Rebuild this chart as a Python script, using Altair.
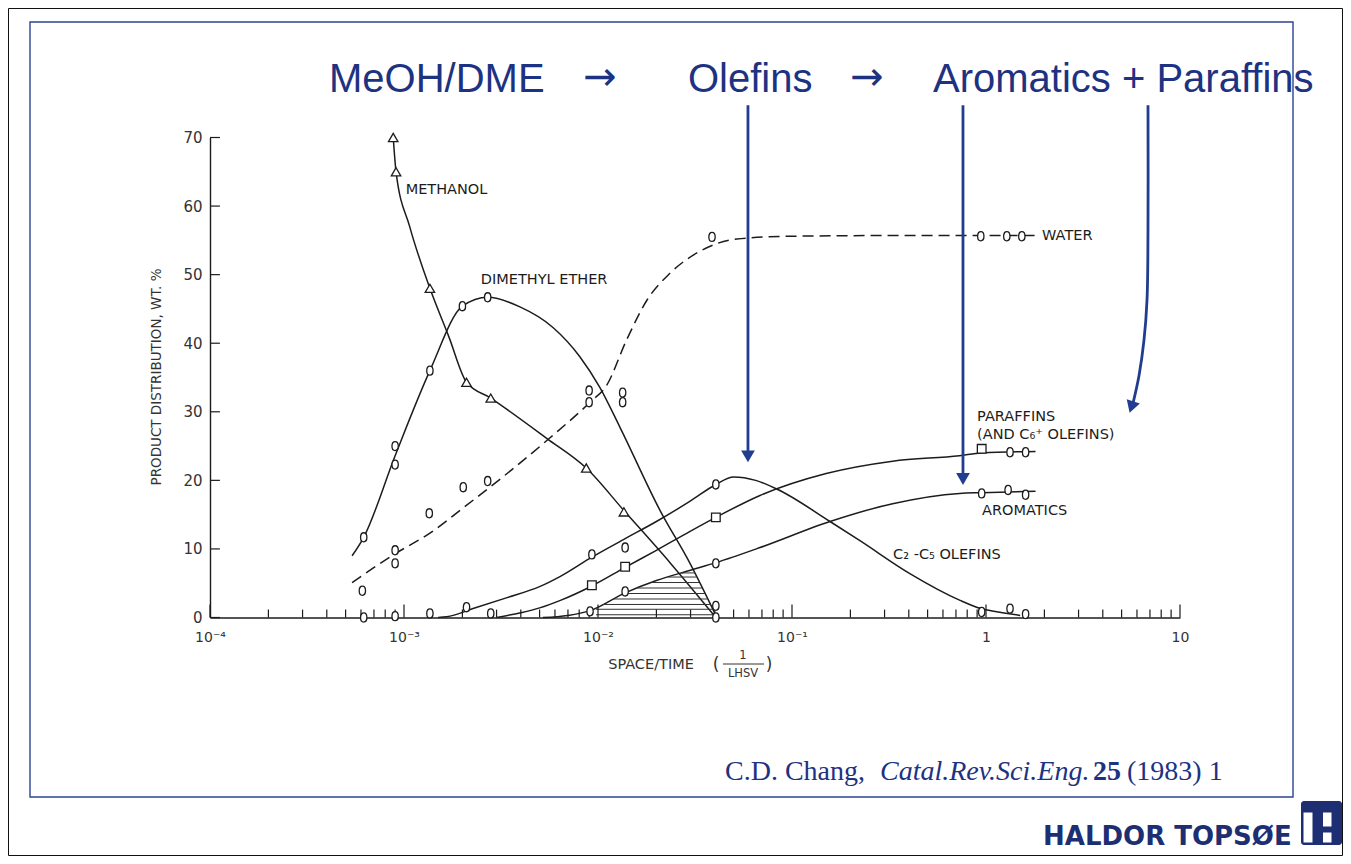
import altair as alt
import numpy as np
import pandas as pd

# ---------------- values ----------------
# fitted curves (space/time, wt.%)
meth_cx = [8.8e-4, 9.1e-4, 1.07e-3, 1.36e-3, 1.7e-3, 2.1e-3, 2.8e-3, 5.46e-3, 8.7e-3, 1.36e-2, 2.35e-2, 4.05e-2]
meth_cy = [70, 65, 57, 48, 41, 34.3, 32, 26.1, 21.8, 15.6, 8.0, 0]

dme_cx = [5.4e-4, 6.2e-4, 9e-4, 1.36e-3, 2.0e-3, 2.7e-3, 3.96e-3, 5.86e-3, 8.08e-3, 1.02e-2, 1.3e-2, 2.09e-2, 2.98e-2, 4.1e-2]
dme_cy = [9, 11.7, 23.6, 36, 45.4, 46.7, 45.3, 42.3, 38, 33.6, 27.7, 15.6, 7.9, 0]

water_cx = [5.4e-4, 9e-4, 1.36e-3, 2e-3, 3.4e-3, 5.6e-3, 9.1e-3, 1.11e-2, 1.4e-2, 1.79e-2, 2.35e-2, 3.45e-2, 5.2e-2, 0.1, 0.3, 0.94, 1.8]
water_cy = [5.1, 9.3, 12.3, 15.9, 21, 26.1, 31.4, 33.9, 40.4, 46.3, 50.2, 53.6, 55.2, 55.6, 55.7, 55.7, 55.7]

olef_cx = [1.5e-3, 1.66e-3, 2.27e-3, 3.4e-3, 5e-3, 6.4e-3, 9.3e-3, 1.38e-2, 2e-2, 3e-2, 4.05e-2, 5e-2, 6.5e-2, 8.4e-2, 0.157, 0.224, 0.405, 0.735, 0.94, 1.29, 1.5]
olef_cy = [0, 0.1, 1.3, 2.9, 4.5, 6.0, 8.8, 11.5, 14, 17, 19.4, 20.5, 20.0, 18.7, 14.0, 11.2, 6.4, 2.5, 1.3, 0.6, 0.3]

par_cx = [3e-3, 4e-3, 5e-3, 6.4e-3, 9.3e-3, 1.38e-2, 2e-2, 3e-2, 4.05e-2, 6.84e-2, 0.15, 0.33, 0.73, 0.95, 1.8]
par_cy = [0, 0.7, 1.4, 2.5, 4.6, 7.3, 9.8, 12.6, 14.6, 17.8, 21.0, 22.8, 23.6, 24.0, 24.2]

aro_cx = [5.2e-3, 7e-3, 9.1e-3, 1.38e-2, 2e-2, 3e-2, 4.05e-2, 6.84e-2, 0.157, 0.33, 0.73, 0.95, 1.8]
aro_cy = [0, 0.3, 1.0, 3.6, 5.4, 6.9, 8.0, 10.2, 14.0, 16.6, 18.1, 18.2, 18.4]

# measured points
meth_px = [8.8e-4, 9.1e-4, 1.36e-3, 2.1e-3, 2.8e-3, 8.7e-3, 1.36e-2]
meth_py = [70, 65, 48, 34.3, 32, 21.8, 15.4]

dme_px = [6.2e-4, 9e-4, 9e-4, 1.36e-3, 2.0e-3, 2.7e-3, 9e-3, 9e-3, 1.34e-2, 1.34e-2, 4.05e-2, 4.05e-2]
dme_py = [11.7, 22.3, 25, 36, 45.4, 46.7, 33.1, 31.4, 32.8, 31.4, 1.7, 0]

water_px = [6.1e-4, 9e-4, 9e-4, 1.35e-3, 2.02e-3, 2.7e-3, 3.87e-2, 0.94, 1.28, 1.53]
water_py = [3.9, 9.8, 7.9, 15.2, 19.0, 19.9, 55.5, 55.6, 55.6, 55.6]

olef_px = [6.2e-4, 9e-4, 1.36e-3, 2.1e-3, 9.3e-3, 1.38e-2, 4.05e-2, 0.95, 1.33, 1.6]
olef_py = [0, 0.2, 0.6, 1.5, 9.2, 10.2, 19.4, 0.8, 1.3, 0.5]

par_sq_x = [9.3e-3, 1.38e-2, 4.05e-2, 0.95]
par_sq_y = [4.7, 7.4, 14.6, 24.6]
par_ci_x = [2.8e-3, 1.33, 1.6]
par_ci_y = [0.6, 24.1, 24.1]

aro_px = [9.1e-3, 1.38e-2, 4.05e-2, 0.95, 1.3, 1.6]
aro_py = [0.9, 3.8, 7.9, 18.1, 18.6, 17.9]

# curve labels
label_text = ["METHANOL", "DIMETHYL ETHER", "WATER", "PARAFFINS", "(AND C\u2086\u207a OLEFINS)", "AROMATICS", "C\u2082 -C\u2085 OLEFINS"]
label_x = [1.02e-3, 2.49e-3, 1.945, 0.9, 0.9, 0.954, 0.332]
label_y = [62.3, 49.2, 55.6, 29.2, 26.6, 15.6, 9.05]

# hatched-area levels (wt.%)
hatch_levels = [0.4, 1.2, 1.9, 2.7, 3.5, 4.3, 5.1, 5.9, 6.5]

# blue annotation arrows
arrow_olef_x = [0.0593, 0.0593]
arrow_olef_y = [74.7, 23.8]
arrow_arom_x = [0.761, 0.761]
arrow_arom_y = [74.7, 20.4]
arrow_par_x = [6.84, 6.84, 6.76, 6.52, 6.15, 5.72]
arrow_par_y = [74.7, 56.5, 46.3, 40.4, 35.3, 31.2]
head_x = [0.0593, 0.761, 5.62]
head_y = [23.5, 20.2, 30.7]
head_angle = [0, 0, 18]

# axis ticks
x_major = [1e-4, 1e-3, 1e-2, 1e-1, 1, 10]
x_labels = ["10\u207b\u2074", "10\u207b\u00b3", "10\u207b\u00b2", "10\u207b\u00b9", "1", "10"]
y_major = [0, 10, 20, 30, 40, 50, 60, 70]

# ---------------- styles ----------------
INK = "#1c1c1c"
BLUE = "#213d8f"
NAVY = "#1e3282"
LOGO = "#1d2f72"
FRAME = "#2b4494"
ELLIPSE = "M0,-1C0.93,-1 0.93,1 0,1C-0.93,1 -0.93,-1 0,-1Z"

xscale = alt.Scale(type="log", domain=[1e-4, 10], nice=False)
yscale = alt.Scale(domain=[0, 70], nice=False, zero=False)

expr = " : ".join(
    [f"datum.value < {v * 1.1} ? '{l}'" for v, l in zip(x_major[:-1], x_labels[:-1])]
) + f" : '{x_labels[-1]}'"

xaxis = alt.Axis(values=x_major, labelExpr=expr, ticks=False, grid=False,
                 domainColor=INK, domainWidth=1.4, labelFont="DejaVu Sans",
                 labelFontSize=14, labelColor="#333", labelPadding=13,
                 labelFlush=False, title="")
yaxis = alt.Axis(values=y_major, ticks=False, grid=False, domainColor=INK,
                 domainWidth=1.4, labelFont="DejaVu Sans", labelFontSize=15,
                 labelColor="#333", labelPadding=8, title="")


def X(f):
    return alt.X(f, type="quantitative", scale=xscale, axis=xaxis)


def Y(f):
    return alt.Y(f, type="quantitative", scale=yscale, axis=yaxis)


# ---------------- tables ----------------
def curve(name, xs, ys):
    return pd.DataFrame({"x": xs, "y": ys, "s": name, "i": range(len(xs))})


solid = pd.concat([curve("meth", meth_cx, meth_cy), curve("dme", dme_cx, dme_cy),
                   curve("olef", olef_cx, olef_cy), curve("par", par_cx, par_cy),
                   curve("aro", aro_cx, aro_cy)])
water = curve("water", water_cx, water_cy)


def pts(xs, ys, kind):
    return pd.DataFrame({"x": xs, "y": ys, "k": kind})


points = pd.concat([pts(meth_px, meth_py, "tri"), pts(dme_px, dme_py, "circ"),
                    pts(water_px, water_py, "circ"), pts(olef_px, olef_py, "circ"),
                    pts(par_sq_x, par_sq_y, "sq"), pts(par_ci_x, par_ci_y, "circ"),
                    pts(aro_px, aro_py, "circ")])

labels = pd.DataFrame({"t": label_text, "x": label_x, "y": label_y})

# hatch: between aromatics curve (left) and falling DME curve (right)
la = np.log10(aro_cx)
pk = int(np.argmax(dme_cy))
dx = np.log10(dme_cx[pk:])[::-1]
dy = np.array(dme_cy[pk:])[::-1]
h0, h1, hy = [], [], []
for lv in hatch_levels:
    xl = max(np.interp(lv, aro_cy, la), -2.01)
    xr = np.interp(lv, dy, dx)
    if xl < xr:
        h0.append(10 ** xl)
        h1.append(10 ** xr)
        hy.append(lv)
hatch = pd.DataFrame({"x0": h0, "x1": h1, "y": hy})

minor = [k * 10.0 ** e for e in range(-4, 1) for k in range(2, 10)]
xt = pd.DataFrame({"x": x_major + minor,
                   "y0": [0] * (len(x_major) + len(minor)),
                   "y1": [1.9] * len(x_major) + [1.15] * len(minor)})
yt = pd.DataFrame({"x0": [1e-4] * len(y_major), "x1": [1.125e-4] * len(y_major), "y": y_major})

arrows = pd.concat([curve("a1", arrow_olef_x, arrow_olef_y),
                    curve("a2", arrow_arom_x, arrow_arom_y),
                    curve("a3", arrow_par_x, arrow_par_y)])
heads = pd.DataFrame({"x": head_x, "y": head_y, "a": head_angle})

dummy = pd.DataFrame({"d": [0]})

# ---------------- layers ----------------
lines = alt.Chart(solid).mark_line(interpolate="monotone", color=INK, strokeWidth=1.5).encode(
    x=X("x"), y=Y("y"), detail="s:N", order="i:Q")
wline = alt.Chart(water).mark_line(interpolate="monotone", color=INK, strokeWidth=1.5,
                                   strokeDash=[11, 6]).encode(x=X("x"), y=Y("y"), order="i:Q")
hatch_l = alt.Chart(hatch).mark_rule(color="#333", strokeWidth=1).encode(
    x=X("x0"), x2=alt.X2("x1"), y=Y("y"))
xticks = alt.Chart(xt).mark_rule(color=INK, strokeWidth=1.2).encode(
    x=X("x"), y=Y("y0"), y2=alt.Y2("y1"))
yticks = alt.Chart(yt).mark_rule(color=INK, strokeWidth=1.2).encode(
    x=X("x0"), x2=alt.X2("x1"), y=Y("y"))
marks = alt.Chart(points).mark_point(filled=False, fill="white", fillOpacity=1,
                                     color=INK, strokeWidth=1.3, opacity=1).encode(
    x=X("x"), y=Y("y"),
    shape=alt.Shape("k:N", scale=alt.Scale(domain=["tri", "circ", "sq"],
                                           range=["triangle-up", ELLIPSE, "square"]), legend=None),
    size=alt.Size("k:N", scale=alt.Scale(domain=["tri", "circ", "sq"], range=[90, 75, 48]), legend=None))
lab = alt.Chart(labels).mark_text(align="left", baseline="middle", font="DejaVu Sans",
                                  fontSize=14.5, color=INK).encode(x=X("x"), y=Y("y"), text="t:N")
arr = alt.Chart(arrows).mark_line(interpolate="catmull-rom", color=BLUE, strokeWidth=2.8).encode(
    x=X("x"), y=Y("y"), detail="s:N", order="i:Q")
hd = alt.Chart(heads).mark_point(filled=True, color=BLUE, shape="triangle-down", size=190,
                                 opacity=1).encode(x=X("x"), y=Y("y"), angle=alt.Angle("a:Q", scale=None))


def deco_text(s, x, y, size, color, font, align="left", baseline="alphabetic",
              weight="normal", style="normal", angle=0):
    kw = dict(text=s, align=align, baseline=baseline, fontSize=size, font=font,
              color=color, fontWeight=weight, fontStyle=style)
    if angle:
        kw["angle"] = angle
    return alt.Chart(dummy).mark_text(**kw).encode(x=alt.value(x), y=alt.value(y))


def deco_rect(x0, x1, y0, y1, **kw):
    return alt.Chart(dummy).mark_rect(**kw).encode(
        x=alt.value(x0), x2=alt.value(x1), y=alt.value(y0), y2=alt.value(y1))


deco = [
    deco_rect(-201.5, 1132.5, -129, 718, fill="transparent", stroke="#111", strokeWidth=1),
    # title
    deco_text("MeOH/DME", 119, -45.5, 40, NAVY, "Liberation Sans"),
    deco_text("\u2192", 390, -59.5, 40, NAVY, "DejaVu Sans", align="center", baseline="middle"),
    deco_text("Olefins", 478, -45.5, 40, NAVY, "Liberation Sans"),
    deco_text("\u2192", 657, -59.5, 40, NAVY, "DejaVu Sans", align="center", baseline="middle"),
    deco_text("Aromatics + Paraffins", 723, -45.5, 40, NAVY, "Liberation Sans"),
    deco_rect(-180, 1083, -115.5, 659.5, fill="transparent", stroke=FRAME, strokeWidth=1.4),
    # axis titles
    deco_text("PRODUCT DISTRIBUTION, WT. %", -53, 239.5, 13.5, "#333", "DejaVu Sans",
              align="center", baseline="middle", angle=270),
    deco_text("SPACE/TIME", 441, 527.5, 14.5, "#333", "DejaVu Sans", align="center", baseline="middle"),
    deco_text("(", 506, 527.5, 17, "#333", "DejaVu Sans", align="center", baseline="middle"),
    deco_text("1", 533, 518, 11.5, "#333", "DejaVu Sans", align="center", baseline="middle"),
    alt.Chart(dummy).mark_rule(color="#333", strokeWidth=1).encode(
        x=alt.value(513), x2=alt.value(554), y=alt.value(526.5)),
    deco_text("LHSV", 533, 536, 11.5, "#333", "DejaVu Sans", align="center", baseline="middle"),
    deco_text(")", 559, 527.5, 17, "#333", "DejaVu Sans", align="center", baseline="middle"),
    # citation
    deco_text("C.D. Chang,", 515, 642.5, 28, NAVY, "Liberation Serif"),
    deco_text("Catal.Rev.Sci.Eng.", 670, 642.5, 28, NAVY, "Liberation Serif", style="italic"),
    deco_text("25", 883, 642.5, 28, NAVY, "Liberation Serif", weight="bold"),
    deco_text("(1983) 1", 917, 642.5, 28, NAVY, "Liberation Serif"),
    # logo
    deco_text("HALDOR TOPS\u00d8E", 833, 707.5, 26, LOGO, "DejaVu Sans", weight="bold"),
    deco_rect(1091, 1132, 663.5, 707.5, fill=LOGO, cornerRadius=3),
    deco_rect(1093.5, 1102.5, 675, 705, fill="white"),
    deco_rect(1113, 1121.5, 675, 689, fill="white"),
    deco_rect(1113, 1121.5, 695, 705, fill="white"),
]

chart = alt.layer(lines, wline, hatch_l, xticks, yticks, marks, lab, arr, hd, *deco).properties(
    width=970, height=480,
    autosize=alt.AutoSizeParams(type="none"),
    padding={"left": 202, "top": 129.5, "right": 163, "bottom": 238.5},
).configure_view(stroke=None)

chart.save("out.html", embed_options={"renderer": "svg", "actions": False})
